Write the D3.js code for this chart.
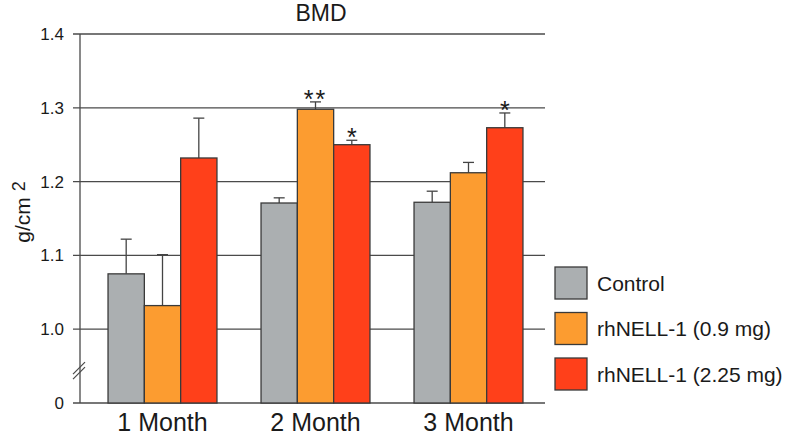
<!DOCTYPE html>
<html><head><meta charset="utf-8">
<script src="https://cdn.jsdelivr.net/npm/d3@7"></script>
<style>body{margin:0;background:#fff}text{font-family:"Liberation Sans",Arial,sans-serif;fill:#1a1a1a}</style>
</head><body><svg id="c" width="792" height="435"></svg>
<script>
const categories = ["1 Month", "2 Month", "3 Month"];
const seriesNames = ["Control", "rhNELL-1 (0.9 mg)", "rhNELL-1 (2.25 mg)"];
const seriesColors = ["#abafb1", "#fc9c30", "#ff401a"];
const controlVals = [1.075, 1.171, 1.172];
const lowDoseVals = [1.032, 1.298, 1.212];
const highDoseVals = [1.232, 1.250, 1.273];
const controlErr = [0.047, 0.007, 0.015];
const lowDoseErr = [0.069, 0.010, 0.014];
const highDoseErr = [0.054, 0.006, 0.020];
const controlSig = ["", "", ""];
const lowDoseSig = ["", "**", ""];
const highDoseSig = ["", "*", "*"];
const tickVals = [0.9, 1.0, 1.1, 1.2, 1.3, 1.4];
const tickLabels = ["0", "1.0", "1.1", "1.2", "1.3", "1.4"];

const vals = [controlVals, lowDoseVals, highDoseVals];
const errs = [controlErr, lowDoseErr, highDoseErr];
const sigs = [controlSig, lowDoseSig, highDoseSig];

const svg = d3.select("#c");
const axisX = 80, plotRight = 545;
const y = d3.scaleLinear().domain([0.9, 1.4]).range([403, 34]);
const x0 = d3.scaleBand().domain(categories).range([86, 545]).paddingInner(0.288).paddingOuter(0.144);
const x1 = d3.scaleBand().domain(d3.range(3)).range([0, x0.bandwidth()]);

// gridlines / ticks
svg.append("g").selectAll("line").data(tickVals).join("line")
  .attr("x1", 73).attr("x2", plotRight)
  .attr("y1", d => y(d)).attr("y2", d => y(d))
  .attr("stroke", "#4a4a4a").attr("stroke-width", 1.3);
svg.append("g").selectAll("text").data(tickVals).join("text")
  .attr("x", 64).attr("y", d => y(d) + 6).attr("text-anchor", "end")
  .attr("font-size", 17).text((d, i) => tickLabels[i]);

// y axis line
svg.append("line").attr("x1", axisX).attr("x2", axisX).attr("y1", y(1.4)).attr("y2", y(0.9))
  .attr("stroke", "#4a4a4a").attr("stroke-width", 1.3);
// axis break
const yb = y(0.95);
[0, 5].forEach(o => svg.append("line")
  .attr("x1", axisX - 7).attr("y1", yb + 8 + o).attr("x2", axisX + 5).attr("y2", yb - 4 + o)
  .attr("stroke", "#4a4a4a").attr("stroke-width", 1.2));

// bars
const g = svg.append("g");
categories.forEach((c, ci) => {
  vals.forEach((sv, si) => {
    const bx = x0(c) + x1(si), bw = x1.bandwidth();
    const v = sv[ci], e = errs[si][ci];
    const cx = bx + bw / 2;
    g.append("line").attr("x1", cx).attr("x2", cx).attr("y1", y(v)).attr("y2", y(v + e))
      .attr("stroke", "#444").attr("stroke-width", 1.3);
    g.append("line").attr("x1", cx - 5.5).attr("x2", cx + 5.5).attr("y1", y(v + e)).attr("y2", y(v + e))
      .attr("stroke", "#444").attr("stroke-width", 1.3);
    g.append("rect").attr("x", bx).attr("y", y(v)).attr("width", bw).attr("height", y(0.9) - y(v))
      .attr("fill", seriesColors[si]).attr("stroke", "#3a3a3a").attr("stroke-width", 1.3);
    if (sigs[si][ci]) {
      g.append("text").attr("x", cx).attr("y", y(v + e) + 6).attr("text-anchor", "middle")
        .attr("font-size", 25).attr("letter-spacing", sigs[si][ci].length > 1 ? 2 : 0).text(sigs[si][ci]);
    }
  });
});

// category labels
svg.append("g").selectAll("text").data(categories).join("text")
  .attr("x", d => x0(d) + x0.bandwidth() / 2).attr("y", 431).attr("text-anchor", "middle")
  .attr("font-size", 25).text(d => d);

// title
svg.append("text").attr("x", 321).attr("y", 21).attr("text-anchor", "middle").attr("font-size", 23).text("BMD");

// y label
const yl = svg.append("text").attr("transform", "translate(30,212) rotate(-90)").attr("text-anchor", "middle").attr("font-size", 21);
yl.append("tspan").text("g/cm ");
yl.append("tspan").attr("font-size", 18).attr("dy", -5).text("2");

// legend
const lg = svg.append("g");
seriesNames.forEach((n, i) => {
  const cy = 283 + i * 45.5;
  lg.append("rect").attr("x", 555).attr("y", cy - 16).attr("width", 32).attr("height", 32)
    .attr("fill", seriesColors[i]).attr("stroke", "#3a3a3a").attr("stroke-width", 1.3);
  lg.append("text").attr("x", 597).attr("y", cy + 7.5).attr("font-size", 21).text(n);
});
</script></body></html>
